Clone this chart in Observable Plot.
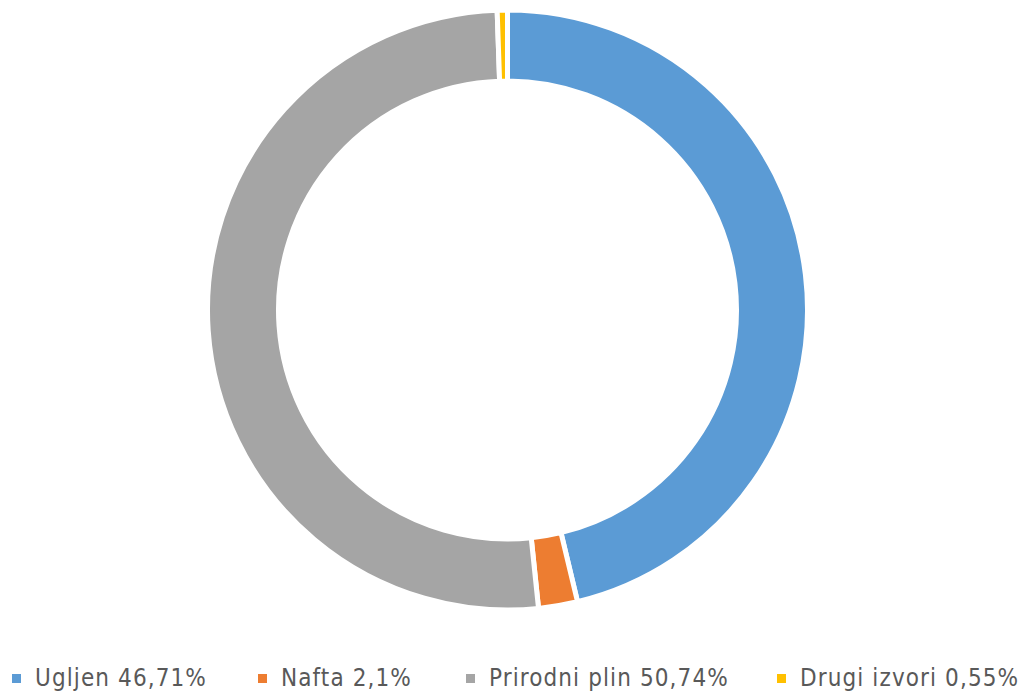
<!DOCTYPE html>
<html>
<head>
<meta charset="utf-8">
<script src="https://cdn.jsdelivr.net/npm/d3@7"></script>
<script src="https://cdn.jsdelivr.net/npm/@observablehq/plot@0.6"></script>
<style>
  html, body { margin: 0; padding: 0; background: #fff; }
  #chart { width: 1024px; height: 700px; position: relative; }
  .legend { position: absolute; left: 0; top: 660px; width: 1024px; height: 36px;
    font-family: "DejaVu Sans Condensed", "Liberation Sans Narrow", sans-serif;
    font-size: 24px; letter-spacing: 1.1px; color: #595959; white-space: nowrap; }
  .legend .item { position: absolute; top: 0; height: 36px; display: flex; align-items: center; }
  .legend .sw { width: 9px; height: 9px; margin-right: 14px; flex: none; }
</style>
</head>
<body>
<div id="chart"></div>
<script>
const categories = ["Ugljen", "Nafta", "Prirodni plin", "Drugi izvori"];
// slice sizes as drawn in the picture (percent of the ring)
const values = [46.25, 2.1, 51.1, 0.55];
const labels = ["46,71%", "2,1%", "50,74%", "0,55%"];
const colors = ["#5B9BD5", "#ED7D31", "#A5A5A5", "#FFC000"];

const data = categories.map((c, i) => ({category: c, value: values[i], label: labels[i]}));

const W = 1024, H = 640;
const cx = 507.5, cy = 310, R = 300, r = 229;

const pie = d3.pie().sort(null).value(d => d.value);
const arcs = pie(data);

const donut = Plot.dot(arcs, {
  x: () => 0, y: () => 0,
  render(index, scales) {
    const x0 = scales.x(0), y0 = scales.y(0);
    const k = scales.x(1) - scales.x(0);
    const arc = d3.arc().innerRadius(r / R * k).outerRadius(k);
    const g = d3.create("svg:g").attr("transform", `translate(${x0},${y0})`);
    g.selectAll("path").data(arcs).join("path")
      .attr("d", arc)
      .attr("fill", d => scales.color(d.data.category))
      .attr("stroke", "#fff")
      .attr("stroke-width", 5)
      .attr("stroke-linejoin", "miter");
    return g.node();
  }
});

const plot = Plot.plot({
  width: W, height: H,
  margin: 0,
  x: {type: "linear", domain: [-cx / R, (W - cx) / R], range: [0, W], axis: null},
  y: {type: "linear", domain: [cy / R, -(H - cy) / R], range: [0, H], axis: null},
  color: {domain: categories, range: colors},
  marks: [donut]
});

const container = document.getElementById("chart");
container.appendChild(plot);

const legend = document.createElement("div");
legend.className = "legend";
const starts = [12, 258, 466, 777];
data.forEach((d, i) => {
  const it = document.createElement("div");
  it.className = "item";
  it.style.left = starts[i] + "px";
  const sw = document.createElement("span");
  sw.className = "sw";
  sw.style.background = colors[i];
  const t = document.createElement("span");
  t.textContent = `${d.category} ${d.label}`;
  it.appendChild(sw); it.appendChild(t);
  legend.appendChild(it);
});
container.appendChild(legend);
</script>
</body>
</html>
